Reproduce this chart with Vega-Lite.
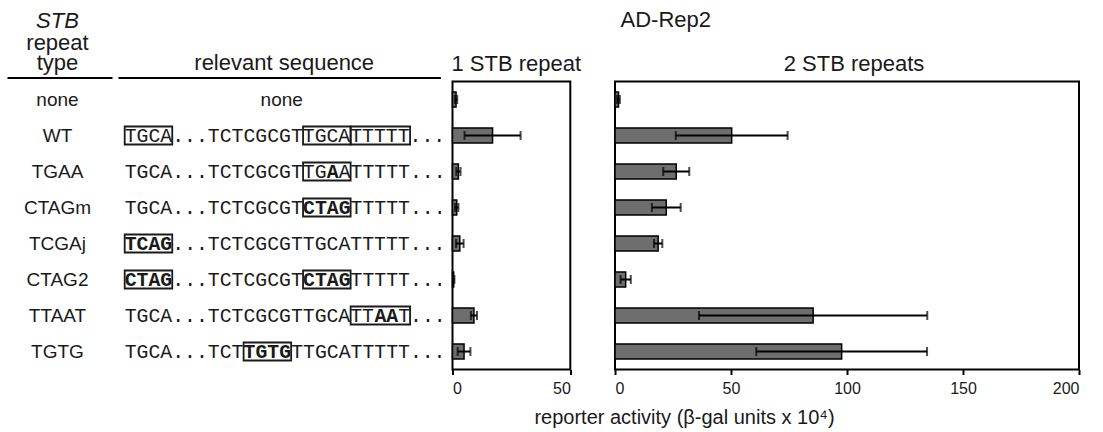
{
  "$schema": "https://vega.github.io/schema/vega-lite/v6.json",
  "padding": {"left": 7, "top": 8.5, "right": 5, "bottom": 0},
  "spacing": 4.5,
  "config": {
    "font": "Liberation Sans",
    "view": {"stroke": "black", "strokeWidth": 2},
    "title": {"fontSize": 22, "fontWeight": "normal", "color": "#1a1a1a", "font": "Liberation Sans"},
    "axis": {
      "labelFont": "Liberation Sans", "labelFontSize": 16, "labelColor": "#1a1a1a",
      "tickColor": "black", "tickWidth": 2, "tickSize": 5,
      "domainColor": "black", "domainWidth": 2, "grid": false, "labelPadding": 6,
      "titleFont": "Liberation Sans", "titleFontSize": 20, "titleFontWeight": "normal", "titleColor": "#1a1a1a"
    }
  },
  "datasets": {
    "activity": [
      {"type": "none", "repeats": 1, "mean": 1.5, "sd": 0.5},
      {"type": "WT", "repeats": 1, "mean": 17, "sd": 11.9},
      {"type": "TGAA", "repeats": 1, "mean": 2.5, "sd": 0.9},
      {"type": "CTAGm", "repeats": 1, "mean": 1.8, "sd": 0.7},
      {"type": "TCGAj", "repeats": 1, "mean": 3.1, "sd": 1.6},
      {"type": "CTAG2", "repeats": 1, "mean": 0.5, "sd": 0.3},
      {"type": "TTAAT", "repeats": 1, "mean": 9.1, "sd": 1.3},
      {"type": "TGTG", "repeats": 1, "mean": 4.9, "sd": 2.7},
      {"type": "none", "repeats": 2, "mean": 1.5, "sd": 0.6},
      {"type": "WT", "repeats": 2, "mean": 50.3, "sd": 24.1},
      {"type": "TGAA", "repeats": 2, "mean": 26.4, "sd": 5.6},
      {"type": "CTAGm", "repeats": 2, "mean": 22.1, "sd": 6.2},
      {"type": "TCGAj", "repeats": 2, "mean": 18.6, "sd": 1.8},
      {"type": "CTAG2", "repeats": 2, "mean": 4.6, "sd": 2.2},
      {"type": "TTAAT", "repeats": 2, "mean": 85.4, "sd": 49.2},
      {"type": "TGTG", "repeats": 2, "mean": 97.7, "sd": 36.8}
    ],
    "sequence": [
      {"type": "WT", "pos": 0, "seg": "TGCA...TCTCGCGTTGCATTTTT...", "mutated": false},
      {"type": "TGAA", "pos": 0, "seg": "TGCA...TCTCGCGTTG", "mutated": false},
      {"type": "TGAA", "pos": 17, "seg": "A", "mutated": true},
      {"type": "TGAA", "pos": 18, "seg": "ATTTTT...", "mutated": false},
      {"type": "CTAGm", "pos": 0, "seg": "TGCA...TCTCGCGT", "mutated": false},
      {"type": "CTAGm", "pos": 15, "seg": "CTAG", "mutated": true},
      {"type": "CTAGm", "pos": 19, "seg": "TTTTT...", "mutated": false},
      {"type": "TCGAj", "pos": 0, "seg": "TCAG", "mutated": true},
      {"type": "TCGAj", "pos": 4, "seg": "...TCTCGCGTTGCATTTTT...", "mutated": false},
      {"type": "CTAG2", "pos": 0, "seg": "CTAG", "mutated": true},
      {"type": "CTAG2", "pos": 4, "seg": "...TCTCGCGT", "mutated": false},
      {"type": "CTAG2", "pos": 15, "seg": "CTAG", "mutated": true},
      {"type": "CTAG2", "pos": 19, "seg": "TTTTT...", "mutated": false},
      {"type": "TTAAT", "pos": 0, "seg": "TGCA...TCTCGCGTTGCATT", "mutated": false},
      {"type": "TTAAT", "pos": 21, "seg": "AA", "mutated": true},
      {"type": "TTAAT", "pos": 23, "seg": "T...", "mutated": false},
      {"type": "TGTG", "pos": 0, "seg": "TGCA...TCT", "mutated": false},
      {"type": "TGTG", "pos": 10, "seg": "TGTG", "mutated": true},
      {"type": "TGTG", "pos": 14, "seg": "TTGCATTTTT...", "mutated": false}
    ],
    "boxes": [
      {"type": "WT", "start": 0, "end": 4},
      {"type": "WT", "start": 15, "end": 19},
      {"type": "WT", "start": 19, "end": 24},
      {"type": "TGAA", "start": 15, "end": 19},
      {"type": "CTAGm", "start": 15, "end": 19},
      {"type": "TCGAj", "start": 0, "end": 4},
      {"type": "CTAG2", "start": 0, "end": 4},
      {"type": "CTAG2", "start": 15, "end": 19},
      {"type": "TTAAT", "start": 19, "end": 24},
      {"type": "TGTG", "start": 10, "end": 14}
    ]
  },
  "hconcat": [
    {
      "bounds": "flush",
      "spacing": 6,
      "hconcat": [
        {
          "width": 105,
          "height": 288,
          "view": {"stroke": null},
          "title": {"text": "STB", "subtitle": ["repeat", "type"], "fontStyle": "italic", "subtitleFontSize": 22, "subtitleFont": "Liberation Sans", "subtitleColor": "#1a1a1a", "subtitleLineHeight": 20, "subtitlePadding": 0, "offset": 3, "anchor": "middle", "dx": -2},
          "data": {"name": "activity"},
          "transform": [{"filter": "datum.repeats === 1"}],
          "mark": {"type": "text", "fontSize": 19, "color": "#1a1a1a", "dx": -2},
          "encoding": {
            "y": {"field": "type", "type": "nominal", "scale": {"domain": ["none", "WT", "TGAA", "CTAGm", "TCGAj", "CTAG2", "TTAAT", "TGTG"], "paddingInner": 0.5, "paddingOuter": 0.25}, "axis": null},
            "x": {"datum": 0, "type": "quantitative", "scale": {"domain": [-1, 1]}, "axis": {"orient": "top", "offset": 4, "domain": true, "ticks": false, "labels": false, "title": null}},
            "text": {"field": "type"}
          }
        },
        {
          "width": 322.4,
          "height": 288,
          "view": {"stroke": null},
          "title": {"text": "relevant sequence", "dx": 5, "offset": 3},
          "encoding": {
            "y": {"field": "type", "type": "nominal", "scale": {"domain": ["none", "WT", "TGAA", "CTAGm", "TCGAj", "CTAG2", "TTAAT", "TGTG"], "paddingInner": 0.5, "paddingOuter": 0.25}, "axis": null}
          },
          "layer": [
            {
              "data": {"name": "boxes"},
              "mark": {"type": "rect", "filled": false, "color": "#1a1a1a", "strokeWidth": 1.8},
              "encoding": {
                "x": {"field": "start", "type": "quantitative", "scale": {"domain": [-0.563, 26.55], "nice": false, "zero": false}, "axis": {"orient": "top", "offset": 4, "domain": true, "ticks": false, "labels": false, "title": null}},
                "x2": {"field": "end"}
              }
            },
            {
              "data": {"name": "sequence"},
              "transform": [{"filter": "!datum.mutated"}],
              "mark": {"type": "text", "font": "Liberation Mono", "fontSize": 19.8, "align": "left", "color": "#1a1a1a"},
              "encoding": {
                "x": {"field": "pos", "type": "quantitative"},
                "text": {"field": "seg"}
              }
            },
            {
              "data": {"name": "sequence"},
              "transform": [{"filter": "datum.mutated"}],
              "mark": {"type": "text", "font": "Liberation Mono", "fontSize": 19.8, "fontWeight": "bold", "align": "left", "color": "#1a1a1a"},
              "encoding": {
                "x": {"field": "pos", "type": "quantitative"},
                "text": {"field": "seg"}
              }
            },
            {
              "data": {"values": [{"type": "none", "seg": "none"}]},
              "mark": {"type": "text", "fontSize": 19, "color": "#1a1a1a", "dx": 2.5},
              "encoding": {
                "text": {"field": "seg"}
              }
            }
          ]
        }
      ]
    },
    {
      "bounds": "flush",
      "spacing": 44.5,
      "title": {"text": "AD-Rep2", "anchor": "start", "dx": 170, "offset": 20},
      "hconcat": [
        {
          "width": 117.8,
          "height": 288,
          "title": {"text": "1 STB repeat", "anchor": "start", "offset": 6},
          "data": {"name": "activity"},
          "transform": [{"filter": "datum.repeats === 1"}],
          "encoding": {
            "y": {"field": "type", "type": "nominal", "scale": {"domain": ["none", "WT", "TGAA", "CTAGm", "TCGAj", "CTAG2", "TTAAT", "TGTG"], "paddingInner": 0.585, "paddingOuter": 0.2925}, "axis": null},
            "x": {"field": "mean", "type": "quantitative", "scale": {"domain": [0, 50], "nice": false}, "axis": {"values": [0, 50], "title": null, "domain": false}}
          },
          "layer": [
            {
              "mark": {"type": "bar", "fill": "#6e6e6e", "stroke": "black", "strokeWidth": 1.5}
            },
            {
              "mark": {"type": "errorbar", "ticks": {"size": 9, "thickness": 2, "color": "black"}, "rule": {"strokeWidth": 2, "color": "black"}},
              "encoding": {
                "xError": {"field": "sd"}
              }
            }
          ]
        },
        {
          "width": 464,
          "height": 288,
          "title": {"text": "2 STB repeats", "dx": 7, "offset": 6},
          "data": {"name": "activity"},
          "transform": [{"filter": "datum.repeats === 2"}],
          "encoding": {
            "y": {"field": "type", "type": "nominal", "scale": {"domain": ["none", "WT", "TGAA", "CTAGm", "TCGAj", "CTAG2", "TTAAT", "TGTG"], "paddingInner": 0.585, "paddingOuter": 0.2925}, "axis": null},
            "x": {"field": "mean", "type": "quantitative", "scale": {"domain": [0, 200], "nice": false}, "axis": {"values": [0, 50, 100, 150, 200], "domain": false, "title": "reporter activity (β-gal units x 10⁴)", "titleX": 69, "titleY": 54, "titleAlign": "center", "titleBaseline": "alphabetic", "titleAnchor": null}}
          },
          "layer": [
            {
              "mark": {"type": "bar", "fill": "#6e6e6e", "stroke": "black", "strokeWidth": 1.5}
            },
            {
              "mark": {"type": "errorbar", "ticks": {"size": 9, "thickness": 2, "color": "black"}, "rule": {"strokeWidth": 2, "color": "black"}},
              "encoding": {
                "xError": {"field": "sd"}
              }
            }
          ]
        }
      ]
    }
  ]
}
